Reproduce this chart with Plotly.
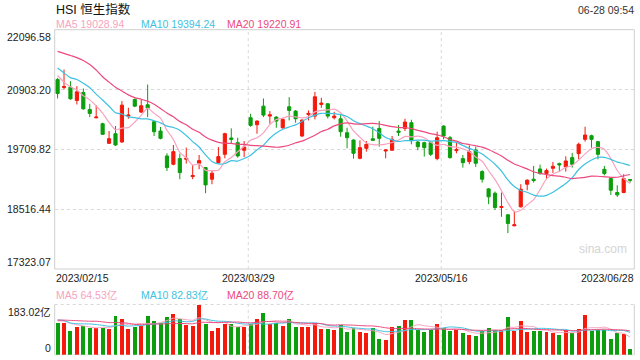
import pandas as pd
import plotly.graph_objects as go

# ---------------- data ----------------
opens = [21102, 20944, 20950, 20685, 20844, 20506, 20340, 20221, 19830, 20022,
         19856, 20373, 20705, 20453, 20599, 20261, 20075, 19578, 19412, 19525,
         19511, 19167, 19432, 19346, 19114, 19445, 19611, 19936, 19843, 19691,
         20340, 20201, 20572, 20373, 20353, 20141, 20559, 20473, 19976, 20407,
         20373, 20606, 20619, 20340, 20320, 20042, 19896, 19531, 19730, 19922,
         20128, 19677, 19691, 20075, 20128, 20241, 19856, 19843, 19843, 19525,
         20174, 19942, 19684, 19525, 19465, 19697, 19266, 18921, 18835, 18550,
         18404, 18185, 18563, 19014, 19114, 19319, 19226, 19332, 19425, 19359,
         19545, 19624, 19909, 19982, 19863, 19312, 19127, 18849, 18849, 19107]
highs = [21136, 21302, 21069, 20970, 20924, 20619, 20592, 20241, 20075, 20175,
         20672, 20539, 20725, 20705, 21003, 20274, 20155, 19631, 19797, 19624,
         19744, 19399, 19598, 19359, 19279, 19757, 20042, 20128, 19942, 19876,
         20420, 20287, 20725, 20473, 20373, 20340, 20751, 20493, 20307, 20486,
         20857, 20738, 20632, 20459, 20393, 20141, 19909, 19889, 19876, 20161,
         20274, 19704, 19976, 20194, 20320, 20300, 19876, 19863, 19856, 20062,
         20188, 19976, 19843, 19598, 19790, 19763, 19293, 18934, 18868, 18848,
         18417, 18484, 19014, 19114, 19379, 19405, 19326, 19458, 19445, 19571,
         19638, 19843, 20161, 20002, 19876, 19379, 19147, 18994, 19213, 19114]
lows = [20725, 20904, 20698, 20605, 20499, 20354, 20327, 20000, 19823, 19777,
        19843, 20320, 20552, 20433, 20353, 19976, 19909, 19280, 19392, 19114,
        19425, 19114, 19313, 18835, 19014, 19425, 19531, 19830, 19545, 19558,
        20161, 20022, 20353, 20221, 20141, 20121, 20287, 20241, 19956, 20287,
        20307, 20539, 20327, 20307, 19962, 19730, 19525, 19511, 19664, 19889,
        19763, 19531, 19691, 19976, 20075, 19810, 19691, 19565, 19578, 19492,
        19909, 19525, 19631, 19346, 19412, 19359, 19047, 18616, 18504, 18364,
        18040, 18175, 18550, 18894, 19047, 19206, 19114, 19240, 19260, 19266,
        19346, 19511, 19863, 19743, 19511, 19193, 18802, 18762, 18835, 19047]
closes = [20824, 20963, 20718, 20857, 20519, 20427, 20353, 20009, 19923, 19797,
          20592, 20393, 20572, 20579, 20532, 20062, 19929, 19346, 19664, 19246,
          19531, 19187, 19485, 19001, 19233, 19565, 20022, 19909, 19578, 19757,
          20188, 20274, 20393, 20400, 20274, 20307, 20486, 20320, 20294, 20426,
          20758, 20632, 20373, 20373, 20062, 19942, 19631, 19744, 19810, 19889,
          19929, 19697, 19909, 20049, 20254, 19889, 19763, 19744, 19611, 19942,
          19976, 19545, 19704, 19445, 19664, 19432, 19114, 18762, 18550, 18570,
          18232, 18205, 18915, 19094, 19087, 19226, 19286, 19372, 19399, 19478,
          19412, 19810, 19995, 19909, 19611, 19226, 18895, 18802, 19127, 19095]
# turnover, 亿
volumes = [116, 116, 86, 102, 105, 98, 98, 98, 93, 141,
           130, 93, 101, 105, 141, 123, 117, 137, 148, 130,
           108, 105, 183.02, 112, 86, 98, 112, 112, 102, 102,
           112, 130, 153, 112, 116, 105, 130, 101, 101, 101,
           114, 93, 93, 90, 110, 82, 98, 82, 79, 97,
           57, 53, 101, 104, 126, 126, 91, 82, 90, 112,
           96, 86, 90, 79, 71, 68, 86, 97, 90, 90,
           137, 86, 123, 82, 86, 86, 82, 79, 71, 90,
           79, 93, 145, 86, 90, 90, 57, 79, 75, 20]
# lead-in sessions before the window (only feed the moving averages)
prior_closes = [21746, 21577, 21678, 21650, 22044, 22566, 22689, 22070, 21842, 22072,
                21958, 21660, 21222, 21298, 21283, 21624, 21190, 21164, 21113]
prior_volumes = [110, 105, 120, 130, 115, 100, 140, 150, 130, 145,
                 140, 175, 130, 110, 100, 120, 125, 130, 125]

date_idx = [0, 30, 60, 89]
date_labels = ["2023/02/15", "2023/03/29", "2023/05/16", "2023/06/28"]
price_ticks = [22096.58, 20903.20, 19709.82, 18516.44, 17323.07]
price_labels = ["22096.58", "20903.20", "19709.82", "18516.44", "17323.07"]
vol_max = 183.02
vol_labels = ["183.02亿", "0"]
title = "HSI 恒生指数"
stamp = "06-28 09:54"
ma_names = ["MA5", "MA10", "MA20"]
ma_price_text = ["19028.94", "19394.24", "19220.91"]
ma_vol_text = ["64.53亿", "82.83亿", "88.70亿"]

# ---------------- styling ----------------
RED = "#f31a0c"
GREEN = "#0c9e0c"
MA_COLORS = ["#f7a3c0", "#3ec1e0", "#ec4a7e"]
GRID = "#d9d9d9"
BORDER = "#cfcfcf"
FONT = "Liberation Sans, Arial, Noto Sans CJK SC, sans-serif"

W, H = 640, 360
XL, XR = 54.7, 634.3           # plot left/right in px
PT, PB = 29.7, 269.0           # price panel top/bottom px
VT, VB = 304.5, 354.8          # volume panel top/bottom px
X0, X1 = -0.45, 89.65          # index range


def px_x(x):
    return x / W


def px_y(y):
    return 1 - y / H


n = len(closes)
idx = list(range(n))

c_all = pd.Series(prior_closes + closes, dtype=float)
v_all = pd.Series(prior_volumes + volumes, dtype=float)
k = len(prior_closes)
ma_price = [c_all.rolling(w).mean().iloc[k:].tolist() for w in (5, 10, 20)]
ma_vol = [v_all.rolling(w).mean().iloc[k:].tolist() for w in (5, 10, 20)]

fig = go.Figure()

fig.add_trace(go.Candlestick(
    x=idx, open=opens, high=highs, low=lows, close=closes,
    increasing=dict(line=dict(color=RED, width=1), fillcolor=RED),
    decreasing=dict(line=dict(color=GREEN, width=1), fillcolor=GREEN),
    whiskerwidth=0, xaxis="x", yaxis="y", showlegend=False, hoverinfo="skip"))

for vals, col in zip(ma_price, MA_COLORS):
    fig.add_trace(go.Scatter(x=idx, y=vals, mode="lines",
                             line=dict(color=col, width=1.2, shape="spline", smoothing=0.6),
                             xaxis="x", yaxis="y", showlegend=False, hoverinfo="skip"))

bar_colors = [RED if c >= o else GREEN for o, c in zip(opens, closes)]
fig.add_trace(go.Bar(x=idx, y=volumes, marker=dict(color=bar_colors, line=dict(width=0)),
                     width=0.62, xaxis="x2", yaxis="y2", showlegend=False, hoverinfo="skip"))
for vals, col in zip(ma_vol, MA_COLORS):
    fig.add_trace(go.Scatter(x=idx, y=vals, mode="lines",
                             line=dict(color=col, width=1, shape="spline", smoothing=0.6),
                             xaxis="x2", yaxis="y2", showlegend=False, hoverinfo="skip"))

xdom = [px_x(XL), px_x(XR)]
common_x = dict(domain=xdom, range=[X0, X1], showgrid=False, zeroline=False,
                showticklabels=False, ticks="", fixedrange=True)
fig.update_layout(
    width=W, height=H, margin=dict(l=0, r=0, t=0, b=0),
    paper_bgcolor="white", plot_bgcolor="white",
    font=dict(family=FONT, color="#222"),
    xaxis=dict(anchor="y", rangeslider=dict(visible=False), **common_x),
    xaxis2=dict(anchor="y2", **common_x),
    yaxis=dict(domain=[px_y(PB), px_y(PT)], range=[price_ticks[-1], price_ticks[0]],
               tickvals=price_ticks[1:-1], showticklabels=False, showgrid=True,
               gridcolor=GRID, griddash="dot", gridwidth=1, zeroline=False, fixedrange=True),
    yaxis2=dict(domain=[px_y(VB), px_y(VT)], range=[0, vol_max], showticklabels=False,
                showgrid=False, zeroline=False, fixedrange=True),
    bargap=0,
)

shapes = []
# price panel border
shapes.append(dict(type="rect", xref="x domain", yref="y domain", x0=0, x1=1, y0=0, y1=1,
                   line=dict(color=BORDER, width=1), layer="below"))
# vertical dotted grid at the date boundaries
for d in date_idx[1:3]:
    gx = d - 0.36
    for yr in ("y domain", "y2 domain"):
        shapes.append(dict(type="line", xref="x", yref=yr, x0=gx, x1=gx, y0=0, y1=1,
                           line=dict(color=GRID, width=1, dash="dot"), layer="below"))
# volume panel: dotted top/bottom, solid sides
for yy in (0, 1):
    shapes.append(dict(type="line", xref="x2 domain", yref="y2 domain", x0=0, x1=1, y0=yy, y1=yy,
                       line=dict(color=GRID, width=1, dash="dot"), layer="below"))
for xx in (0, 1):
    shapes.append(dict(type="line", xref="x2 domain", yref="y2 domain", x0=xx, x1=xx, y0=0, y1=1,
                       line=dict(color=BORDER, width=1), layer="below"))
fig.update_layout(shapes=shapes)

ann = []


def text(x, y, s, color="#222", size=11, xanchor="left", yanchor="middle", xref="paper",
         yref="paper", **kw):
    ann.append(dict(x=x, y=y, xref=xref, yref=yref, text=s, showarrow=False,
                    xanchor=xanchor, yanchor=yanchor, font=dict(color=color, size=size, family=FONT),
                    borderpad=0, **kw))


text(px_x(55), px_y(9), title, size=12.5, color="#111")
text(px_x(635), px_y(10), stamp, size=10.5, color="#333", xanchor="right")
ma_x = [55, 140, 226]
for nm, val, col, xx in zip(ma_names, ma_price_text, MA_COLORS, ma_x):
    text(px_x(xx), px_y(24), f"{nm} {val}", color=col, size=10.5)
for nm, val, col, xx in zip(ma_names, ma_vol_text, MA_COLORS, ma_x):
    text(px_x(xx), px_y(295), f"{nm} {val}", color=col, size=10.5)

# price axis labels
for i, (v, lab) in enumerate(zip(price_ticks, price_labels)):
    ya = "top" if i == 0 else ("bottom" if i == len(price_ticks) - 1 else "middle")
    text(px_x(52), v, lab, xanchor="right", yanchor=ya, yref="y", size=10.5)
# volume axis labels
text(px_x(52), vol_max, vol_labels[0], xanchor="right", yanchor="top", yref="y2", size=10.5)
text(px_x(52), 0, vol_labels[1], xanchor="right", yanchor="bottom", yref="y2", size=10.5)

# date labels
for j, (d, lab) in enumerate(zip(date_idx, date_labels)):
    if j == 0:
        text(px_x(XL), px_y(278), lab, xanchor="left", size=10.5)
    elif j == len(date_idx) - 1:
        text(px_x(XR + 1), px_y(278), lab, xanchor="right", size=10.5)
    else:
        text(d - 0.36, px_y(278), lab, xanchor="center", xref="x", size=10.5)

text(px_x(603), px_y(249), "sina.com", color="#d4d4d4", size=12, xanchor="center")

fig.update_layout(annotations=ann)

fig.write_html("out.html", config={"displayModeBar": False, "staticPlot": True},
               post_script="document.body.style.margin='0';document.body.style.overflow='hidden';")
